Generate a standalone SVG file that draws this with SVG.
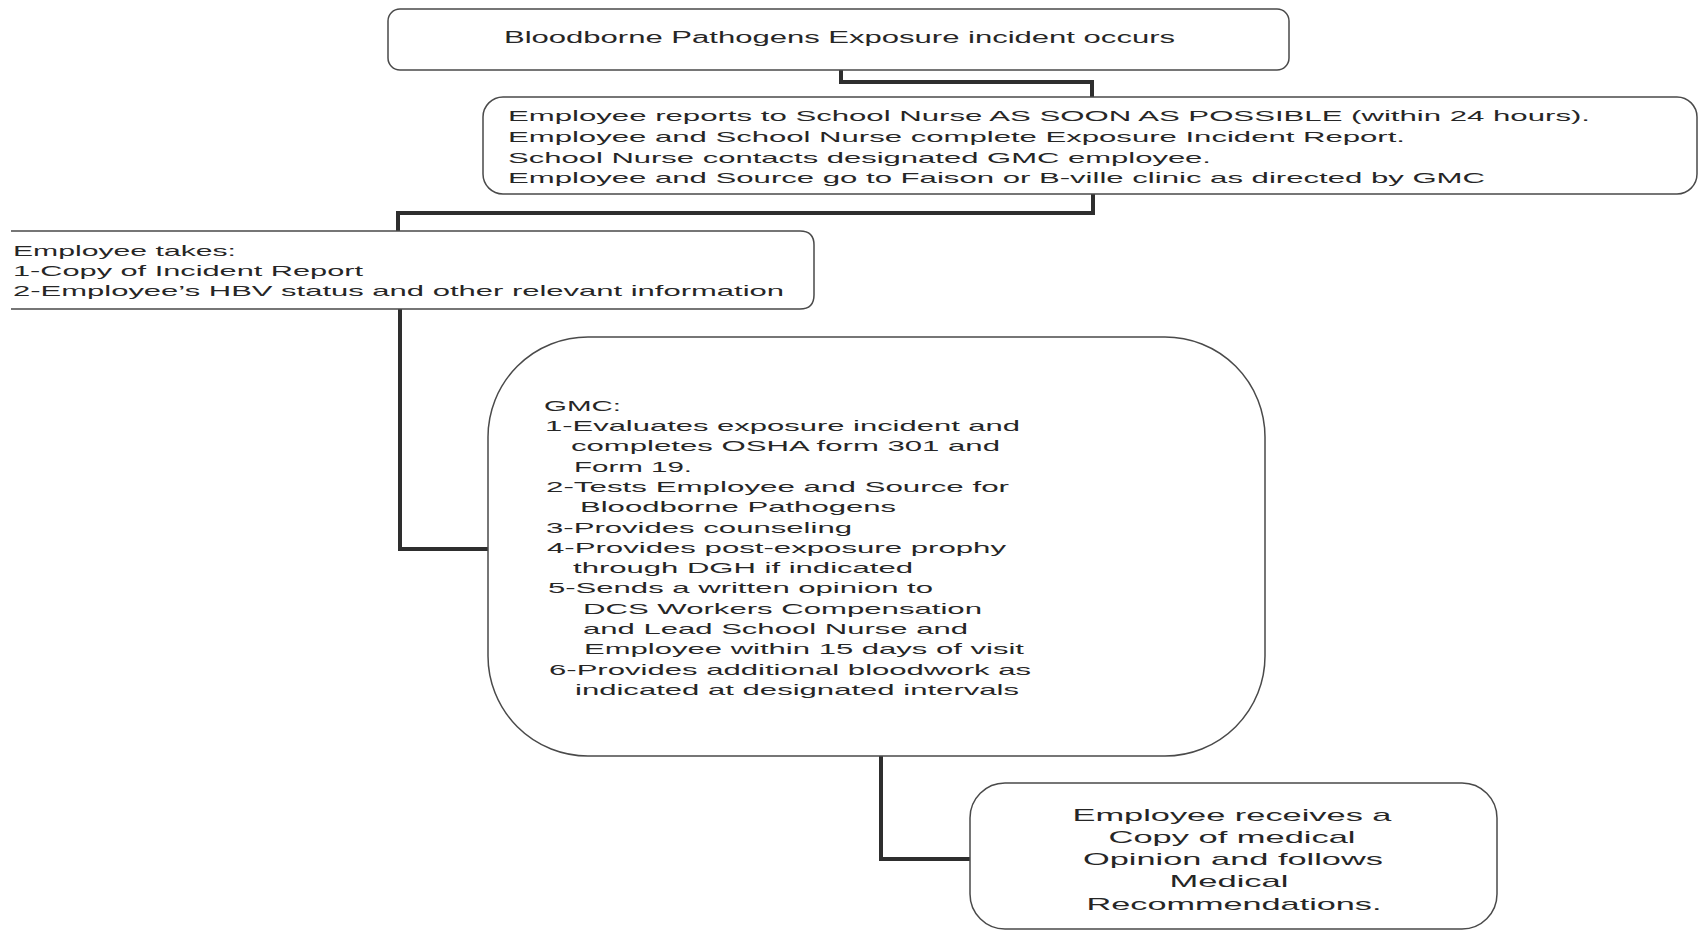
<svg xmlns="http://www.w3.org/2000/svg" width="1701" height="931" viewBox="0 0 1701 931">
<style>
.box{fill:#fff;stroke:#4a4a4a;stroke-width:1.5}
.con{fill:none;stroke:#2e2e2e;stroke-width:4;stroke-linejoin:miter}
text{font-family:"Liberation Sans",Arial,sans-serif;fill:#262626}
.t14{font-size:15px}
.t15{font-size:16px}
.t16{font-size:17px}
</style>
<rect width="1701" height="931" fill="#fff"/>
<g id="connectors">
<path class="con" d="M841 70 V82 H1092 V97"/>
<path class="con" d="M1093 194 V213 H398 V231"/>
<path class="con" d="M400 309 V549 H488"/>
<path class="con" d="M881 756 V859 H970"/>
</g>
<g id="n1">
<rect class="box" x="388" y="9" width="901" height="61" rx="12"/>
<text class="t15" x="504" y="43" textLength="671" lengthAdjust="spacingAndGlyphs">Bloodborne Pathogens Exposure incident occurs</text>
</g>
<g id="n2">
<rect class="box" x="483" y="97" width="1214" height="97" rx="20"/>
<g class="t14">
<text x="508" y="121" textLength="1082" lengthAdjust="spacingAndGlyphs">Employee reports to School Nurse AS SOON AS POSSIBLE (within 24 hours).</text>
<text x="508" y="142" textLength="897" lengthAdjust="spacingAndGlyphs">Employee and School Nurse complete Exposure Incident Report.</text>
<text x="508" y="163" textLength="703" lengthAdjust="spacingAndGlyphs">School Nurse contacts designated GMC employee.</text>
<text x="508" y="183" textLength="977" lengthAdjust="spacingAndGlyphs">Employee and Source go to Faison or B-ville clinic as directed by GMC</text>
</g>
</g>
<g id="n3">
<path class="box" d="M11 231 H800 Q814 231 814 245 V295 Q814 309 800 309 H11"/>
<g class="t14">
<text x="13" y="256" textLength="223" lengthAdjust="spacingAndGlyphs">Employee takes:</text>
<text x="13" y="276" textLength="350" lengthAdjust="spacingAndGlyphs">1-Copy of Incident Report</text>
<text x="13" y="296" textLength="771" lengthAdjust="spacingAndGlyphs">2-Employee’s HBV status and other relevant information</text>
</g>
</g>
<g id="n4">
<rect class="box" x="488" y="337" width="777" height="419" rx="100"/>
<g class="t14">
<text x="544" y="410.7" textLength="77" lengthAdjust="spacingAndGlyphs">GMC:</text>
<text x="545" y="431" textLength="475" lengthAdjust="spacingAndGlyphs">1-Evaluates exposure incident and</text>
<text x="571" y="451.3" textLength="429" lengthAdjust="spacingAndGlyphs">completes OSHA form 301 and</text>
<text x="574" y="471.6" textLength="118" lengthAdjust="spacingAndGlyphs">Form 19.</text>
<text x="546" y="491.9" textLength="463" lengthAdjust="spacingAndGlyphs">2-Tests Employee and Source for</text>
<text x="580" y="512.2" textLength="316" lengthAdjust="spacingAndGlyphs">Bloodborne Pathogens</text>
<text x="546" y="532.5" textLength="306" lengthAdjust="spacingAndGlyphs">3-Provides counseling</text>
<text x="547" y="552.8" textLength="459" lengthAdjust="spacingAndGlyphs">4-Provides post-exposure prophy</text>
<text x="573" y="573.1" textLength="340" lengthAdjust="spacingAndGlyphs">through DGH if indicated</text>
<text x="548" y="593.4" textLength="385" lengthAdjust="spacingAndGlyphs">5-Sends a written opinion to</text>
<text x="583" y="613.7" textLength="399" lengthAdjust="spacingAndGlyphs">DCS Workers Compensation</text>
<text x="583" y="634" textLength="385" lengthAdjust="spacingAndGlyphs">and Lead School Nurse and</text>
<text x="584" y="654.3" textLength="440" lengthAdjust="spacingAndGlyphs">Employee within 15 days of visit</text>
<text x="549" y="674.6" textLength="482" lengthAdjust="spacingAndGlyphs">6-Provides additional bloodwork as</text>
<text x="575" y="694.9" textLength="444" lengthAdjust="spacingAndGlyphs">indicated at designated intervals</text>
</g>
</g>
<g id="n5">
<rect class="box" x="970" y="783" width="527" height="146" rx="35"/>
<g class="t16" text-anchor="middle">
<text x="1232" y="821" textLength="319" lengthAdjust="spacingAndGlyphs">Employee receives a</text>
<text x="1232" y="843" textLength="247" lengthAdjust="spacingAndGlyphs">Copy of medical</text>
<text x="1233" y="865" textLength="300" lengthAdjust="spacingAndGlyphs">Opinion and follows</text>
<text x="1229" y="887" textLength="119" lengthAdjust="spacingAndGlyphs">Medical</text>
<text x="1234" y="910" textLength="295" lengthAdjust="spacingAndGlyphs">Recommendations.</text>
</g>
</g>
</svg>
